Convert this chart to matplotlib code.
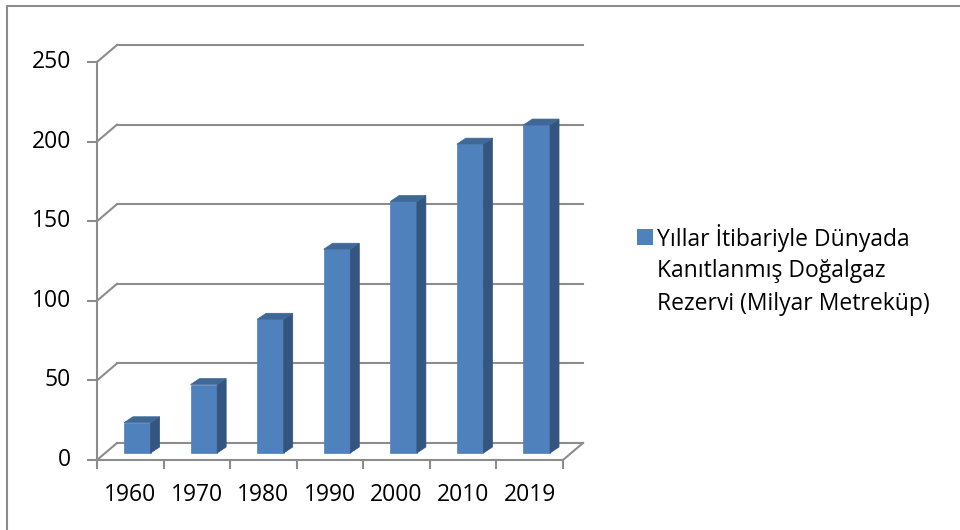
import matplotlib
matplotlib.use("Agg")
import matplotlib.pyplot as plt
from matplotlib.patches import Polygon, Rectangle
from matplotlib.lines import Line2D

# Proven world natural gas reserves by year
years = ["1960", "1970", "1980", "1990", "2000", "2010", "2019"]
reserves = [19, 43, 84, 128, 158, 194, 206]
y_ticks = [0, 50, 100, 150, 200, 250]
legend_label = "Yıllar İtibariyle Dünyada\nKanıtlanmış Doğalgaz\nRezervi (Milyar Metreküp)"

FONT = ["Open Sans", "DejaVu Sans"]
plt.rcParams["font.family"] = FONT
TICK_FS = 16.5
LEGEND_FS = 16.5

W, H, DPI = 960, 530, 100
fig = plt.figure(figsize=(W / DPI, H / DPI), dpi=DPI)
fig.patch.set_facecolor("white")

# front plane of the 3-D box
ax = fig.add_axes([97 / W, 70 / H, 466 / W, 398 / H])
n = len(years)
ax.set_xlim(0, n)
ax.set_ylim(0, y_ticks[-1])
ax.axis("off")

GRID = "#8c8c8c"
LW = 1.5
FRONT = "#4f81bd"
SIDE = "#34557f"
TOP = "#3e6898"

# wall depth and bar placement offsets, in pixels
WALL_DX, WALL_DY = 20, 17
BAR_DX, BAR_DY = 7, 7
BAR_DEPTH_DX, BAR_DEPTH_DY = 9, 6
BAR_W = 0.4


def px_offset(dx, dy):
    """Convert a pixel offset into data units of the front plane."""
    inv = ax.transData.inverted()
    x0, y0 = ax.transData.transform((0, 0))
    x1, y1 = inv.transform((x0 + dx, y0 + dy))
    return x1, y1


wx, wy = px_offset(WALL_DX, WALL_DY)
bx, by = px_offset(BAR_DX, BAR_DY)
dx, dy = px_offset(BAR_DEPTH_DX, BAR_DEPTH_DY)


def line(xs, ys, z=1):
    ax.add_line(Line2D(xs, ys, color=GRID, lw=LW, clip_on=False, zorder=z,
                       solid_capstyle="projecting"))


# back wall gridlines and side wall diagonals
for v in y_ticks:
    line([wx, n + wx], [v + wy, v + wy])
    line([0, wx], [v, v + wy])

# floor: front edge and right-hand diagonal
line([0, n], [0, 0], z=3)
line([n, n + wx], [0, wy], z=3)

# value axis with ticks
line([0, 0], [0, y_ticks[-1]], z=3)
tx, _ = px_offset(-9, 0)
lx, _ = px_offset(-26, 0)
for v in y_ticks:
    line([tx, 0], [v, v], z=3)
    ax.text(lx, v, str(v), ha="right", va="center", fontsize=TICK_FS, color="black",
            clip_on=False)

# category ticks and labels
_, ty = px_offset(0, -8)
_, ly = px_offset(0, -35)
for i in range(n + 1):
    line([i, i], [ty, 0], z=3)
for i, lab in enumerate(years):
    ax.text(i + 0.5, ly, lab, ha="center", va="center", fontsize=TICK_FS,
            color="black", clip_on=False)

# 3-D columns
for i, v in enumerate(reserves):
    x0 = i + 0.5 - BAR_W / 2 + bx
    x1 = x0 + BAR_W
    y0 = by
    y1 = v + by
    ax.add_patch(Rectangle((x0, y0), BAR_W, v, facecolor=FRONT, edgecolor=FRONT,
                           lw=0.5, zorder=5, clip_on=False))
    ax.add_patch(Polygon([(x1, y0), (x1, y1), (x1 + dx, y1 + dy), (x1 + dx, y0 + dy)],
                         closed=True, facecolor=SIDE, edgecolor=SIDE, lw=0.5,
                         zorder=5, clip_on=False))
    ax.add_patch(Polygon([(x0, y1), (x1, y1), (x1 + dx, y1 + dy), (x0 + dx, y1 + dy)],
                         closed=True, facecolor=TOP, edgecolor=TOP, lw=0.5,
                         zorder=5, clip_on=False))


# legend
def fx(px):
    return px / W


def fy(py):
    return 1 - py / H


fig.patches.append(Rectangle((fx(637), fy(245)), 16 / W, 16 / H, facecolor=FRONT,
                             edgecolor="none", transform=fig.transFigure))
for k, txt in enumerate(legend_label.split("\n")):
    fig.text(fx(657), fy(238 + 33 * k), txt, ha="left", va="center",
             fontsize=LEGEND_FS, color="black")

# chart area border
fig.add_artist(Line2D([fx(7), fx(960)], [fy(6), fy(6)], color=GRID, lw=LW,
                      transform=fig.transFigure))
fig.add_artist(Line2D([fx(7), fx(7)], [fy(6), fy(530)], color=GRID, lw=LW,
                      transform=fig.transFigure))

fig.savefig("out.png", dpi=DPI)
